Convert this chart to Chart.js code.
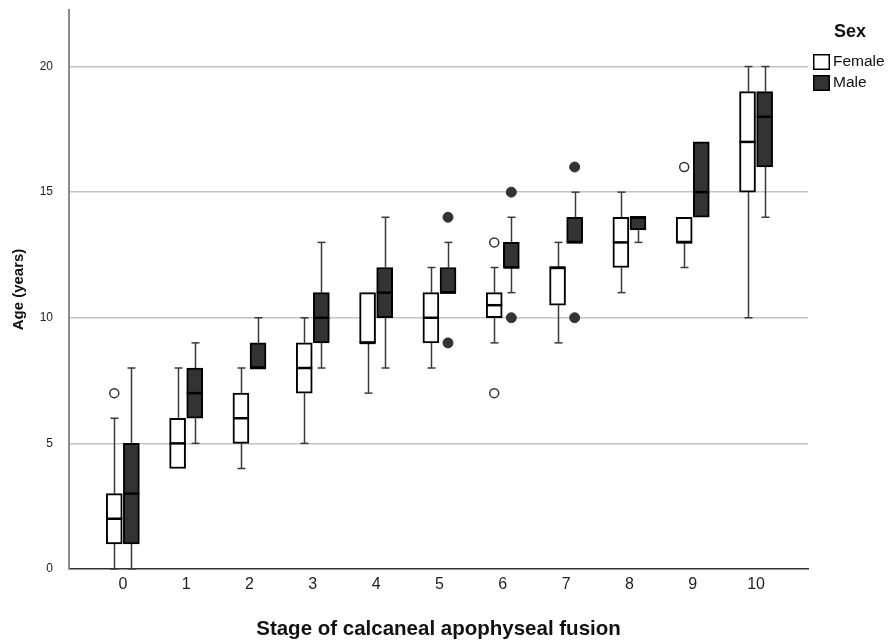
<!DOCTYPE html>
<html>
<head>
<meta charset="utf-8">
<script src="https://cdn.jsdelivr.net/npm/chart.js@4.4.1/dist/chart.umd.min.js"></script>
<style>
    html, body { margin: 0; padding: 0; background: #fff; }
    #wrap { width: 889px; height: 640px; }
</style>
</head>
<body>
<div id="wrap"><canvas id="chart" width="889" height="640"></canvas></div>
<script>
// Stage of calcaneal apophyseal fusion vs age, split by sex
const stages = [0, 1, 2, 3, 4, 5, 6, 7, 8, 9, 10];
const yTicks = [0, 5, 10, 15, 20];
const sexLabels = ['Female', 'Male'];

const femaleLow = [0, 4, 4, 5, 7, 8, 9, 9, 11, 12, 10];
const femaleQ1 = [1, 4, 5, 7, 9, 9, 10, 10.5, 12, 13, 15];
const femaleMedian = [2, 5, 6, 8, 9, 10, 10.5, 12, 13, 13, 17];
const femaleQ3 = [3, 6, 7, 9, 11, 11, 11, 12, 14, 14, 19];
const femaleHigh = [6, 8, 8, 10, 11, 12, 12, 13, 15, 14, 20];
const femaleOutliers = [[0, 7], [6, 13], [6, 7], [9, 16]];

const maleLow = [0, 5, 8, 8, 8, 11, 11, 13, 13, 14, 14];
const maleQ1 = [1, 6, 8, 9, 10, 11, 12, 13, 13.5, 14, 16];
const maleMedian = [3, 7, 8, 10, 11, 11, 12, 13, 14, 15, 18];
const maleQ3 = [5, 8, 9, 11, 12, 12, 13, 14, 14, 17, 19];
const maleHigh = [8, 9, 10, 13, 14, 13, 14, 15, 14, 17, 20];
const maleOutliers = [[5, 14], [5, 9], [6, 15], [6, 10], [7, 16], [7, 10]];

const SHIFT = 0.135;
const groups = [
    { shift: -SHIFT, low: femaleLow, q1: femaleQ1, med: femaleMedian, q3: femaleQ3, high: femaleHigh, fill: '#ffffff' },
    { shift: SHIFT, low: maleLow, q1: maleQ1, med: maleMedian, q3: maleQ3, high: maleHigh, fill: '#333333' },
];

const NARROW = '"Liberation Sans Narrow", "Liberation Sans", Arial, sans-serif';
const SANS = '"Liberation Sans", Arial, sans-serif';

function seg(ctx, x1, y1, x2, y2) {
    ctx.beginPath();
    ctx.moveTo(x1, y1);
    ctx.lineTo(x2, y2);
    ctx.stroke();
}

// whiskers go under the boxes, medians on top of them
const boxPlot = {
    id: 'boxPlot',
    beforeDatasetsDraw(chart) {
        const { ctx, scales: { x, y } } = chart;
        ctx.save();
        ctx.strokeStyle = '#3a3a3a';
        ctx.lineWidth = 1.5;
        groups.forEach((g) => {
            stages.forEach((s, i) => {
                const px = Math.round(x.getPixelForValue(s + g.shift)) + 0.5;
                const yLow = y.getPixelForValue(g.low[i]);
                const yHigh = y.getPixelForValue(g.high[i]);
                if (g.low[i] < g.q1[i]) {
                    seg(ctx, px, yLow, px, y.getPixelForValue(g.q1[i]));
                    seg(ctx, px - 4, yLow, px + 4, yLow);
                }
                if (g.high[i] > g.q3[i]) {
                    seg(ctx, px, yHigh, px, y.getPixelForValue(g.q3[i]));
                    seg(ctx, px - 4, yHigh, px + 4, yHigh);
                }
            });
        });
        ctx.restore();
    },
    afterDatasetsDraw(chart) {
        const { ctx, scales: { x, y } } = chart;
        ctx.save();
        ctx.strokeStyle = '#000';
        ctx.lineWidth = 2.5;
        groups.forEach((g) => {
            stages.forEach((s, i) => {
                const px = x.getPixelForValue(s + g.shift);
                const py = y.getPixelForValue(g.med[i]);
                seg(ctx, px - 8, py, px + 8, py);
            });
        });
        ctx.restore();
    },
    afterDraw(chart) {
        const { ctx } = chart;
        ctx.save();
        ctx.fillStyle = '#111';
        ctx.textBaseline = 'middle';
        ctx.font = 'bold 18px ' + SANS;
        ctx.fillText('Sex', 834, 32);
        ctx.font = '15.5px ' + SANS;
        sexLabels.forEach((label, i) => {
            const top = 54 + i * 21;
            ctx.fillStyle = groups[i].fill;
            ctx.fillRect(813, top, 17, 16);
            ctx.strokeStyle = '#000';
            ctx.lineWidth = 1.5;
            ctx.strokeRect(813.75, top + 0.75, 15.5, 14.5);
            ctx.fillStyle = '#111';
            ctx.fillText(label, 833, top + 8);
        });
        ctx.restore();
    },
};

const boxDataset = (g, label) => ({
    label,
    data: stages.map((s, i) => ({ x: s + g.shift, y: [g.q1[i], g.q3[i]] })),
    backgroundColor: g.fill,
    borderColor: '#000',
    borderWidth: 2,
    borderSkipped: false,
    barThickness: 16,
    grouped: false,
    order: 2,
});

new Chart(document.getElementById('chart'), {
    type: 'bar',
    data: {
        datasets: [
            boxDataset(groups[0], sexLabels[0]),
            boxDataset(groups[1], sexLabels[1]),
            {
                type: 'scatter',
                label: 'Female outliers',
                data: femaleOutliers.map(([s, v]) => ({ x: s - SHIFT, y: v })),
                pointRadius: 4.5,
                pointBackgroundColor: '#fff',
                pointBorderColor: '#333',
                pointBorderWidth: 1.5,
                order: 1,
            },
            {
                type: 'scatter',
                label: 'Male outliers',
                data: maleOutliers.map(([s, v]) => ({ x: s + SHIFT, y: v })),
                pointRadius: 5,
                pointBackgroundColor: '#333',
                pointBorderColor: '#333',
                pointBorderWidth: 1,
                order: 1,
            },
        ],
    },
    options: {
        responsive: false,
        animation: false,
        layout: { padding: { top: 10, right: 81, left: 0, bottom: 0 } },
        plugins: { legend: { display: false }, tooltip: { enabled: false } },
        scales: {
            x: {
                type: 'linear',
                min: -0.85,
                max: 10.82,
                offset: false,
                afterBuildTicks: (s) => { s.ticks = stages.map((v) => ({ value: v })); },
                afterFit: (s) => { s.height = 71; s.paddingLeft = 0; s.paddingRight = 0; },
                ticks: {
                    autoSkip: false,
                    maxRotation: 0,
                    padding: 6,
                    color: '#222',
                    font: { family: NARROW, size: 16 },
                    callback: (v) => String(v),
                },
                grid: { display: false, drawTicks: false },
                border: { display: true, color: '#333', width: 1.5 },
                title: {
                    display: true,
                    text: 'Stage of calcaneal apophyseal fusion',
                    color: '#111',
                    font: { family: SANS, size: 20.5, weight: 'bold', lineHeight: 1 },
                    padding: { top: 0, bottom: 0 },
                },
            },
            y: {
                min: 0,
                max: 22.25,
                afterBuildTicks: (s) => { s.ticks = yTicks.map((v) => ({ value: v })); },
                afterFit: (s) => { s.width = 69; s.paddingTop = 0; s.paddingBottom = 0; },
                ticks: {
                    padding: 16,
                    color: '#222',
                    font: { family: SANS, size: 12 },
                },
                grid: {
                    drawTicks: false,
                    lineWidth: 1.5,
                    color: (c) => (c.tick && c.tick.value === 0 ? 'rgba(0,0,0,0)' : '#c4c4c4'),
                },
                border: { display: true, color: '#8c8c8c', width: 2 },
                title: {
                    display: true,
                    text: 'Age (years)',
                    color: '#111',
                    font: { family: SANS, size: 15, weight: 'bold', lineHeight: 1.2 },
                    padding: { top: 10, bottom: 0 },
                },
            },
        },
    },
    plugins: [boxPlot],
});
</script>
</body>
</html>
